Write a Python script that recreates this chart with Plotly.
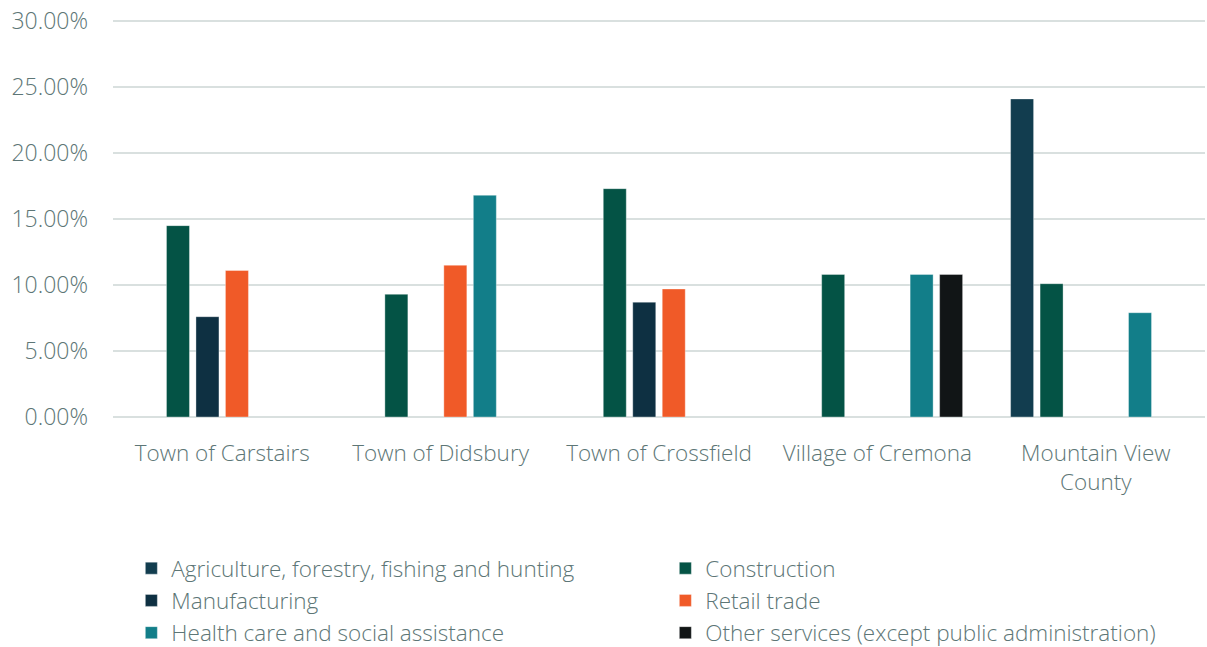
import plotly.graph_objects as go

categories = ["Town of Carstairs", "Town of Didsbury", "Town of Crossfield", "Village of Cremona", "Mountain View County"]
tick_labels = ["Town of Carstairs", "Town of Didsbury", "Town of Crossfield", "Village of Cremona", "Mountain View<br>County"]
y_tick_vals = [0, 5, 10, 15, 20, 25, 30]
y_tick_text = ["0.00%", "5.00%", "10.00%", "15.00%", "20.00%", "25.00%", "30.00%"]

agriculture = [None, None, None, None, 24.1]
construction = [14.5, 9.3, 17.3, 10.8, 10.1]
manufacturing = [7.6, None, 8.7, None, None]
retail = [11.1, 11.5, 9.7, None, None]
health = [None, 16.8, None, 10.8, 7.9]
other = [None, None, None, 10.8, None]

series = [
    ("Agriculture, forestry, fishing and hunting", agriculture, "#123d4f"),
    ("Construction", construction, "#045345"),
    ("Manufacturing", manufacturing, "#0e3042"),
    ("Retail trade", retail, "#f05a28"),
    ("Health care and social assistance", health, "#127e89"),
    ("Other services (except public administration)", other, "#111516"),
]

text_color = "#5d7676"
font_family = "Open Sans, Noto Sans, sans-serif"

fig = go.Figure()
for name, vals, color in series:
    fig.add_trace(go.Bar(
        x=categories, y=vals, name=name,
        marker=dict(color=color, line=dict(color="rgba(255,255,255,0.35)", width=1)),
    ))

fig.update_layout(
    width=1207, height=665,
    paper_bgcolor="white", plot_bgcolor="white",
    barmode="group", bargap=0.19, bargroupgap=0.22,
    margin=dict(l=113, r=2, t=20, b=248),
    font=dict(family=font_family, color=text_color, size=22.5, weight=300),
    xaxis=dict(
        tickmode="array", tickvals=categories, ticktext=tick_labels,
        tickfont=dict(size=22.5, color=text_color, weight=300), showgrid=False,
        showline=False, ticks="", ticklabelstandoff=20, automargin=False,
    ),
    yaxis=dict(
        range=[0, 30.08], tickmode="array", tickvals=y_tick_vals, ticktext=y_tick_text,
        tickfont=dict(size=23, color=text_color, weight=300),
        gridcolor="#d9e0df", gridwidth=2, zeroline=True,
        zerolinecolor="#d9e0df", zerolinewidth=2, showline=False,
        ticklabelstandoff=24, automargin=False,
    ),
    legend=dict(
        orientation="h", x=0.0168, y=-0.3275, xanchor="left", yanchor="top",
        font=dict(size=22.5, color=text_color, weight=300), entrywidth=489, entrywidthmode="pixels",
        traceorder="normal", tracegroupgap=0,
    ),
    showlegend=True,
)

fig.write_html(
    "out.html",
    config={"displayModeBar": False},
    post_script="document.body.style.margin='0';document.body.style.overflow='hidden';document.documentElement.style.overflow='hidden';",
)
